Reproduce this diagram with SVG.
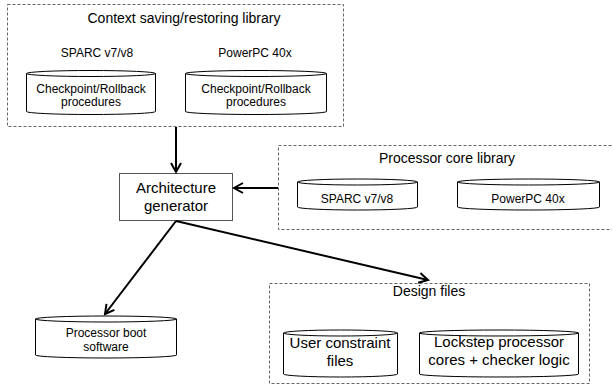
<svg xmlns="http://www.w3.org/2000/svg" width="612" height="385" viewBox="0 0 612 385">
<style>
text{font-family:"Liberation Sans",Arial,Helvetica,sans-serif;fill:#000;text-anchor:middle}
.grp{fill:none;stroke:#666;stroke-width:1;stroke-dasharray:3 2}
.cyl{fill:#fff;stroke:#000;stroke-width:1}
.box{fill:#fff;stroke:#555;stroke-width:1}
.conn{fill:none;stroke:#000;stroke-width:2}
.s12{font-size:12px}.s14{font-size:14px}.s15{font-size:15px}
</style>
<defs>
<marker id="arr" markerUnits="userSpaceOnUse" markerWidth="14" markerHeight="14" refX="10" refY="6" orient="auto">
<path d="M1,1 L10,6 L1,11" fill="none" stroke="#000" stroke-width="2"/>
</marker>
</defs>
<g id="context-library">
<rect class="grp" x="7.5" y="4.5" width="336" height="122"/>
<text class="s14" x="184" y="23">Context saving/restoring library</text>
<text class="s12" x="97" y="57">SPARC v7/v8</text>
<text class="s12" x="255" y="57">PowerPC 40x</text>
</g>
<g id="cp-sparc">
<path class="cyl" d="M26.5,73.5 L26.5,111.5 A64.5,3 0 0 0 155.5,111.5 L155.5,73.5 A64.5,3 0 0 0 26.5,73.5 A64.5,3 0 0 0 155.5,73.5"/>
<text class="s12" x="91" y="93">Checkpoint/Rollback</text>
<text class="s12" x="91" y="106">procedures</text>
</g>
<g id="cp-ppc">
<path class="cyl" d="M185.5,73.5 L185.5,111.5 A70.5,3 0 0 0 326.5,111.5 L326.5,73.5 A70.5,3 0 0 0 185.5,73.5 A70.5,3 0 0 0 326.5,73.5"/>
<text class="s12" x="256" y="93">Checkpoint/Rollback</text>
<text class="s12" x="256" y="106">procedures</text>
</g>
<g id="arch-gen">
<rect class="box" x="119.5" y="173.5" width="113" height="47"/>
<text class="s15" x="176" y="193">Architecture</text>
<text class="s15" x="176" y="211">generator</text>
</g>
<g id="core-library">
<rect class="grp" x="278.5" y="145.5" width="336" height="84"/>
<text class="s14" x="447" y="163">Processor core library</text>
</g>
<g id="core-sparc">
<path class="cyl" d="M297.5,182 L297.5,207 A60,3 0 0 0 417.5,207 L417.5,182 A60,3 0 0 0 297.5,182 A60,3 0 0 0 417.5,182"/>
<text class="s12" x="357" y="203">SPARC v7/v8</text>
</g>
<g id="core-ppc">
<path class="cyl" d="M457.5,182 L457.5,207 A71,3 0 0 0 599.5,207 L599.5,182 A71,3 0 0 0 457.5,182 A71,3 0 0 0 599.5,182"/>
<text class="s12" x="528" y="203">PowerPC 40x</text>
</g>
<g id="boot-sw">
<path class="cyl" d="M35.5,319 L35.5,355 A70.5,3 0 0 0 176.5,355 L176.5,319 A70.5,3 0 0 0 35.5,319 A70.5,3 0 0 0 176.5,319"/>
<text class="s12" x="106" y="337">Processor boot</text>
<text class="s12" x="106" y="351">software</text>
</g>
<g id="design-files">
<rect class="grp" x="269.5" y="283.5" width="320" height="100"/>
<text class="s14" x="429" y="296">Design files</text>
</g>
<g id="ucf">
<path class="cyl" d="M283.5,333 L283.5,374 A57,3 0 0 0 397.5,374 L397.5,333 A57,3 0 0 0 283.5,333 A57,3 0 0 0 397.5,333"/>
<text class="s15" x="340" y="348">User constraint</text>
<text class="s15" x="340" y="366">files</text>
</g>
<g id="lockstep">
<path class="cyl" d="M419.5,333 L419.5,374 A79.5,3 0 0 0 578.5,374 L578.5,333 A79.5,3 0 0 0 419.5,333 A79.5,3 0 0 0 578.5,333"/>
<text class="s15" x="499" y="347">Lockstep processor</text>
<text class="s15" x="499" y="365">cores + checker logic</text>
</g>
<g id="connectors">
<line class="conn" x1="176" y1="127" x2="176" y2="172" marker-end="url(#arr)"/>
<line class="conn" x1="278" y1="188" x2="234" y2="188" marker-end="url(#arr)"/>
<line class="conn" x1="176" y1="221" x2="105" y2="314" marker-end="url(#arr)"/>
<line class="conn" x1="176" y1="221" x2="428" y2="280" marker-end="url(#arr)"/>
</g>
</svg>
